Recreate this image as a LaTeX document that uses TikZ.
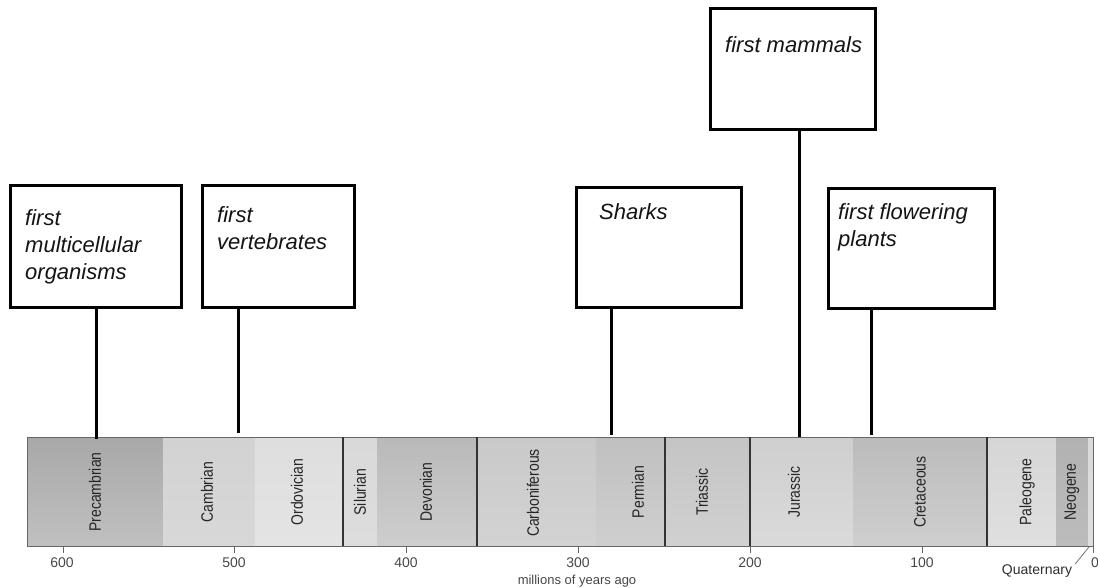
\documentclass[tikz,border=0pt]{standalone}
\usepackage{fontspec}
\setmainfont{Liberation Sans}
\begin{document}
\begin{tikzpicture}[x=1pt,y=-1pt,
  evbox/.style={draw=black, line width=3.2pt, fill=white, rectangle, inner sep=0pt, anchor=north west},
  evtext/.style={font=\fontsize{22}{27}\selectfont\itshape, align=left, anchor=north west, inner sep=0pt, text=black!92},
  conn/.style={line width=3pt, draw=black},
  era/.style={font=\fontsize{14}{16}\selectfont, text=black!85, rotate=90, inner sep=0pt},
  tickmark/.style={draw=black!60, line width=0.8pt},
  ticklab/.style={font=\fontsize{14}{16}\selectfont, text=black!72, inner sep=0pt, anchor=base},
  bound/.style={draw=black!80, line width=1.5pt}]
\useasboundingbox (0,0) rectangle (1098,588);

% ---- timeline bar segments ----
\newcommand{\geoseg}[4]{\shade[top color=#3, bottom color=#4] (#1,437) rectangle (#2,546);}
\newcommand{\eralab}[1]{\scalebox{1}[1.18]{#1}}
\definecolor{g1a}{HTML}{A8A8A8}\definecolor{g1b}{HTML}{C0C0C0}
\definecolor{g2a}{HTML}{D2D2D2}\definecolor{g2b}{HTML}{D8D8D8}
\definecolor{g3a}{HTML}{DEDEDE}\definecolor{g3b}{HTML}{E4E4E4}
\definecolor{g4a}{HTML}{D9D9D9}\definecolor{g4b}{HTML}{DDDDDD}
\definecolor{g5a}{HTML}{B9B9B9}\definecolor{g5b}{HTML}{CECECE}
\definecolor{g6a}{HTML}{C9C9C9}\definecolor{g6b}{HTML}{D3D3D3}
\definecolor{g7a}{HTML}{C0C0C0}\definecolor{g7b}{HTML}{CFCFCF}
\definecolor{g8a}{HTML}{C4C4C4}\definecolor{g8b}{HTML}{D1D1D1}
\definecolor{g9a}{HTML}{CFCFCF}\definecolor{g9b}{HTML}{DADADA}
\definecolor{g10a}{HTML}{BBBBBB}\definecolor{g10b}{HTML}{CFCFCF}
\definecolor{g11a}{HTML}{D6D6D6}\definecolor{g11b}{HTML}{DFDFDF}
\definecolor{g12a}{HTML}{B2B2B2}\definecolor{g12b}{HTML}{BCBCBC}
\definecolor{g13a}{HTML}{DADADA}\definecolor{g13b}{HTML}{DEDEDE}
\geoseg{27}{163}{g1a}{g1b}
\geoseg{163}{255}{g2a}{g2b}
\geoseg{255}{343}{g3a}{g3b}
\geoseg{343}{377}{g4a}{g4b}
\geoseg{377}{477}{g5a}{g5b}
\geoseg{477}{596}{g6a}{g6b}
\geoseg{596}{665}{g7a}{g7b}
\geoseg{665}{750}{g8a}{g8b}
\geoseg{750}{853}{g9a}{g9b}
\geoseg{853}{987}{g10a}{g10b}
\geoseg{987}{1056}{g11a}{g11b}
\geoseg{1056}{1088}{g12a}{g12b}
\geoseg{1088}{1093}{g13a}{g13b}
\draw[black!60, line width=1pt] (27,437) rectangle (1093,546);
\foreach \bx in {343,477,665,750,987} \draw[bound] (\bx,437) -- (\bx,546);

% ---- era labels ----
\node[era] (pre) at (95,492) {\eralab{Precambrian}};
\node[era] (cam) at (207,492) {\eralab{Cambrian}};
\node[era] (ord) at (297,492) {\eralab{Ordovician}};
\node[era] (sil) at (360,492) {\eralab{Silurian}};
\node[era] (dev) at (426,492) {\eralab{Devonian}};
\node[era] (car) at (533,493) {\eralab{Carboniferous}};
\node[era] (per) at (638,492) {\eralab{Permian}};
\node[era] (tri) at (702,492) {\eralab{Triassic}};
\node[era] (jur) at (794,492) {\eralab{Jurassic}};
\node[era] (cre) at (920,492) {\eralab{Cretaceous}};
\node[era] (pal) at (1027,492) {\eralab{Paleogene}};
\node[era] (neo) at (1072,492) {\eralab{Neogene}};

% ---- axis ----
\foreach \tx in {63,234,406,578,750,922,1093} \draw[tickmark] (\tx,546) -- (\tx,553);
\node[ticklab] (l600) at (62,567) {600};
\node[ticklab] (l500) at (234,567) {500};
\node[ticklab] (l400) at (406,567) {400};
\node[ticklab] (l300) at (578,567) {300};
\node[ticklab] (l200) at (750,567) {200};
\node[ticklab] (l100) at (922,567) {100};
\node[ticklab] (l0) at (1095,567) {0};
\node[ticklab, font=\fontsize{13}{15}\selectfont] (myr) at (577,584) {millions of years ago};
\node[ticklab, text=black!82] (qlab) at (1037,574) {Quaternary};
\coordinate (qend) at (1089,547);
\draw[black!55, line width=0.8pt] ([xshift=3pt]qlab.north east) -- (qend);

% ---- event boxes ----
\node[evbox, minimum width=171pt, minimum height=122pt] (b1) at (9,184) {};
\node[evbox, minimum width=152pt, minimum height=122pt] (b2) at (201,184) {};
\node[evbox, minimum width=165pt, minimum height=120pt] (b3) at (575,186) {};
\node[evbox, minimum width=165pt, minimum height=121pt] (b4) at (709,7) {};
\node[evbox, minimum width=166pt, minimum height=120pt] (b5) at (827,187) {};

\node[evtext] (t1) at (25,209) {first\\multicellular\\organisms};
\node[evtext] (t2) at (217,206) {first\\vertebrates};
\node[evtext] (t3) at (599,203) {Sharks};
\node[evtext] (t4) at (725,36) {first mammals};
\node[evtext] (t5) at (838,203) {first flowering\\plants};

% ---- connectors ----
\coordinate (e1) at (96,439);
\coordinate (e2) at (238,433);
\coordinate (e3) at (611,435);
\coordinate (e4) at (799,437);
\coordinate (e5) at (871,435);
\draw[conn] (b1.south -| e1) -- (e1);
\draw[conn] ([yshift=3pt]b2.south -| e2) -- (e2);
\draw[conn] ([yshift=3pt]b3.south -| e3) -- (e3);
\draw[conn] (b4.south -| e4) -- (e4);
\draw[conn] ([yshift=3pt]b5.south -| e5) -- (e5);
\end{tikzpicture}
\end{document}
